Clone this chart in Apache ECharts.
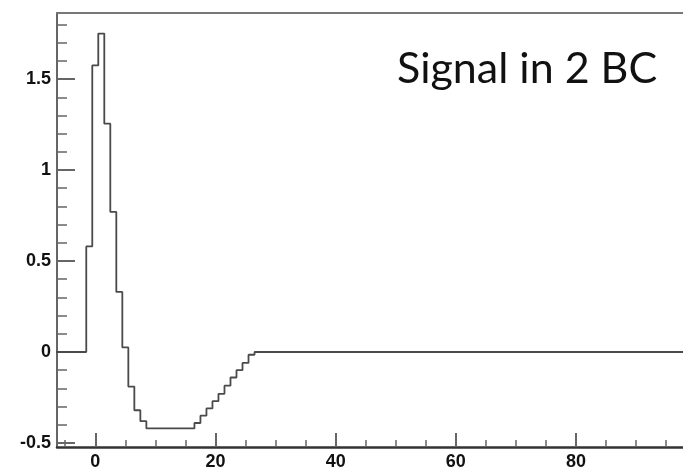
<!DOCTYPE html>
<html>
<head>
<meta charset="utf-8">
<script src="https://cdn.jsdelivr.net/npm/echarts@6/dist/echarts.min.js"></script>
<style>
html,body{margin:0;padding:0;background:#fff;}
#chart{width:683px;height:469px;}
</style>
</head>
<body>
<div id="chart"></div>
<script>
// ---- data ----
var binStart = -7;      // centre of first bin
var binWidth = 1;
var binValues = [
  0, 0, 0, 0, 0, 0,                 // -7 .. -2
  0.58, 1.575, 1.75, 1.255, 0.77,   // -1 .. 3
  0.33, 0.025, -0.19, -0.32, -0.38, // 4 .. 8
  -0.42, -0.42, -0.42, -0.42, -0.42, -0.42, -0.42, -0.42, // 9 .. 16
  -0.39, -0.35, -0.31, -0.27, -0.23, -0.185, -0.14, -0.10, -0.06, -0.015, // 17 .. 26
  0, 0, 0, 0, 0, 0, 0, 0, 0, 0,     // 27 .. 36
  0, 0, 0, 0, 0, 0, 0, 0, 0, 0,     // 37 .. 46
  0, 0, 0, 0, 0, 0, 0, 0, 0, 0,     // 47 .. 56
  0, 0, 0, 0, 0, 0, 0, 0, 0, 0,     // 57 .. 66
  0, 0, 0, 0, 0, 0, 0, 0, 0, 0,     // 67 .. 76
  0, 0, 0, 0, 0, 0, 0, 0, 0, 0,     // 77 .. 86
  0, 0, 0, 0, 0, 0, 0, 0, 0, 0,     // 87 .. 96
  0, 0, 0, 0, 0                     // 97 .. 101
];
var xTickValues = [0, 20, 40, 60, 80];
var xTickLabels = ['0', '20', '40', '60', '80'];
var xMinorTicks = [-5, 5, 10, 15, 25, 30, 35, 45, 50, 55, 65, 70, 75, 85, 90, 95];
var yTickValues = [-0.5, 0, 0.5, 1, 1.5];
var yTickLabels = ['-0.5', '0', '0.5', '1', '1.5'];
var yMinorTicks = [-0.4, -0.3, -0.2, -0.1, 0.1, 0.2, 0.3, 0.4, 0.6, 0.7, 0.8, 0.9, 1.1, 1.2, 1.3, 1.4, 1.6, 1.7, 1.8];
var annotation = 'Signal in 2 BC';

var xMin = -6.37, xMax = 97.8;
var yMin = -0.522, yMax = 1.863;

var seriesData = binValues.map(function (v, i) { return [binStart + i * binWidth, v]; });

var chart = echarts.init(document.getElementById('chart'), null, {renderer: 'canvas'});
var tickColor = '#666';
var labelFont = {fontFamily: 'Liberation Sans', fontWeight: 'bold', fontSize: 18, color: '#111'};

chart.setOption({
  animation: false,
  backgroundColor: '#fff',
  grid: {left: 57, right: 0, top: 13, bottom: 22, containLabel: false, outerBoundsMode: 'none'},
  xAxis: [
    {
      type: 'value', min: xMin, max: xMax, position: 'bottom',
      axisLine: {show: true, onZero: false, lineStyle: {color: '#333', width: 2.5}},
      axisTick: {show: true, inside: true, length: 14, customValues: xTickValues, lineStyle: {color: tickColor, width: 2}},
      axisLabel: Object.assign({show: true, margin: 6, customValues: xTickValues,
        formatter: function (v) { var k = xTickValues.indexOf(v); return k >= 0 ? xTickLabels[k] : ''; }}, labelFont),
      splitLine: {show: false}
    },
    {
      type: 'value', min: xMin, max: xMax, position: 'bottom',
      axisLine: {show: false, onZero: false},
      axisTick: {show: true, inside: true, length: 7, customValues: xMinorTicks, lineStyle: {color: tickColor, width: 1.5}},
      axisLabel: {show: false},
      splitLine: {show: false}
    },
    {
      type: 'value', min: xMin, max: xMax, position: 'top',
      axisLine: {show: true, onZero: false, lineStyle: {color: '#777', width: 2}},
      axisTick: {show: false}, axisLabel: {show: false}, splitLine: {show: false}
    }
  ],
  yAxis: [
    {
      type: 'value', min: yMin, max: yMax, position: 'left',
      axisLine: {show: true, onZero: false, lineStyle: {color: '#666', width: 2}},
      axisTick: {show: true, inside: true, length: 18, customValues: yTickValues, lineStyle: {color: tickColor, width: 2}},
      axisLabel: Object.assign({show: true, margin: 6, customValues: yTickValues,
        formatter: function (v) { var k = yTickValues.indexOf(v); return k >= 0 ? yTickLabels[k] : ''; }}, labelFont),
      splitLine: {show: false}
    },
    {
      type: 'value', min: yMin, max: yMax, position: 'left',
      axisLine: {show: false, onZero: false},
      axisTick: {show: true, inside: true, length: 10, customValues: yMinorTicks, lineStyle: {color: tickColor, width: 1.5}},
      axisLabel: {show: false},
      splitLine: {show: false}
    }
  ],
  series: [{
    type: 'line',
    xAxisIndex: 0, yAxisIndex: 0,
    step: 'middle',
    data: seriesData,
    showSymbol: false,
    symbol: 'none',
    clip: true,
    lineStyle: {color: '#4a4a4a', width: 1.8}
  }],
  graphic: [{
    type: 'text',
    left: 397, top: 48,
    style: {text: annotation, fontFamily: 'Lato', fontSize: 43, fill: '#111'}
  }]
});
</script>
</body>
</html>
